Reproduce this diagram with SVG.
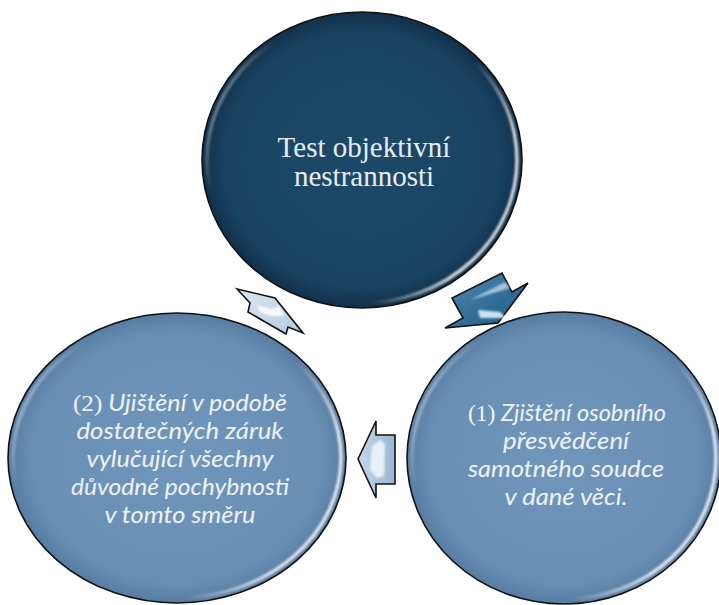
<svg xmlns="http://www.w3.org/2000/svg" width="719" height="605" viewBox="0 0 719 605">
<defs>
<style>
.rim{fill:none;stroke-width:3.5;filter:url(#soft)}
.edge{stroke:#111;stroke-width:1.6}
.ttop{font-family:"Liberation Serif","Times New Roman",serif;font-size:29px;fill:#e6edf3;text-anchor:middle}
.tside{font-family:Lato,"Open Sans",sans-serif;font-style:italic;font-size:24px;fill:#eef3f8;text-anchor:middle}
.num{font-family:"Liberation Serif","Times New Roman",serif;font-style:normal}
.arr{stroke:#111;stroke-width:1.6;stroke-linejoin:miter}
</style>
<filter id="soft" x="-10%" y="-10%" width="120%" height="120%"><feGaussianBlur stdDeviation="1.3"/></filter>
<filter id="soft2" x="-20%" y="-20%" width="140%" height="140%"><feGaussianBlur stdDeviation="1.2"/></filter>
<radialGradient id="gTop" cx="50%" cy="50%" r="50%">
<stop offset="0" stop-color="#1d4a6a"/><stop offset="0.86" stop-color="#1a4363"/><stop offset="1" stop-color="#10304a"/>
</radialGradient>
<radialGradient id="gSide" cx="50%" cy="50%" r="50%">
<stop offset="0" stop-color="#7096bc"/><stop offset="0.86" stop-color="#6a8fb5"/><stop offset="1" stop-color="#577ca2"/>
</radialGradient>
<linearGradient id="gRim" x1="0" y1="0" x2="1" y2="0.4">
<stop offset="0" stop-color="#fff" stop-opacity="0.95"/><stop offset="0.22" stop-color="#fff" stop-opacity="0"/>
<stop offset="0.8" stop-color="#fff" stop-opacity="0"/><stop offset="1" stop-color="#fff" stop-opacity="0.8"/>
</linearGradient>
<linearGradient id="gArrDark" x1="0" y1="0" x2="1" y2="1">
<stop offset="0" stop-color="#4d8bb6"/><stop offset="1" stop-color="#1d5680"/>
</linearGradient>
<linearGradient id="gArrMid" x1="0" y1="0" x2="1" y2="0">
<stop offset="0" stop-color="#c4d6e7"/><stop offset="1" stop-color="#98b7d3"/>
</linearGradient>
<linearGradient id="gArrLight" x1="0" y1="0" x2="1" y2="1">
<stop offset="0" stop-color="#dbe6f0"/><stop offset="1" stop-color="#b4cadf"/>
</linearGradient>
</defs>
<rect width="719" height="605" fill="#fff"/>

<g id="connectors">
<g id="arrow-top-to-1">
<polygon class="arr" fill="url(#gArrDark)" points="445,328 498,323 528,283 512,292 502,273 452,298 463,318"/>
<polygon points="478,310 500,312 506,318 480,318" fill="#dff0fb" opacity="0.9" filter="url(#soft2)"/>
<polygon points="470,300 505,282 510,288" fill="#cfe6f6" opacity="0.7" filter="url(#soft2)"/>
</g>
<g id="arrow-1-to-2">
<polygon class="arr" fill="url(#gArrMid)" points="358,459 376,421 376,435 395,435 395,484 376,484 376,498"/>
<polygon points="372,446 380,440 385,444 384,476 377,478 370,470" fill="#f4f9fd" opacity="0.85" filter="url(#soft2)"/>
</g>
<g id="arrow-2-to-top">
<polygon class="arr" fill="url(#gArrLight)" points="237,289 275,298 303,333 288,327 286,334 248,312 250,303"/>
<polygon points="257,305 272,309 279,306 285,316 270,316 260,312" fill="#ffffff" opacity="0.85" filter="url(#soft2)"/>
</g>
</g>

<g id="node-top">
<ellipse class="edge" cx="362" cy="160" rx="160" ry="148" fill="url(#gTop)"/>
<ellipse class="rim" cx="362" cy="160" rx="155" ry="143" stroke="url(#gRim)"/>
<text class="ttop" x="364" y="157">Test objektivní</text>
<text class="ttop" x="364" y="186">nestrannosti</text>
</g>

<g id="node-2">
<ellipse class="edge" cx="177" cy="458" rx="169" ry="145" fill="url(#gSide)"/>
<ellipse class="rim" cx="177" cy="458" rx="164" ry="140" stroke="url(#gRim)"/>
<text class="tside" x="180" y="411" textLength="214" lengthAdjust="spacingAndGlyphs"><tspan class="num">(2)</tspan> Ujištění v podobě</text>
<text class="tside" x="180" y="439" textLength="207" lengthAdjust="spacingAndGlyphs">dostatečných záruk</text>
<text class="tside" x="180" y="467" textLength="187" lengthAdjust="spacingAndGlyphs">vylučující všechny</text>
<text class="tside" x="180" y="495" textLength="218" lengthAdjust="spacingAndGlyphs">důvodné pochybnosti</text>
<text class="tside" x="180" y="523" textLength="151" lengthAdjust="spacingAndGlyphs">v tomto směru</text>
</g>

<g id="node-1">
<ellipse class="edge" cx="564" cy="458" rx="157" ry="146" fill="url(#gSide)"/>
<ellipse class="rim" cx="564" cy="458" rx="152" ry="141" stroke="url(#gRim)"/>
<text class="tside" x="567" y="421" textLength="198" lengthAdjust="spacingAndGlyphs"><tspan class="num">(1)</tspan> Zjištění osobního</text>
<text class="tside" x="566" y="449" textLength="126" lengthAdjust="spacingAndGlyphs">přesvědčení</text>
<text class="tside" x="566" y="477" textLength="196" lengthAdjust="spacingAndGlyphs">samotného soudce</text>
<text class="tside" x="566" y="505" textLength="123" lengthAdjust="spacingAndGlyphs">v dané věci.</text>
</g>
</svg>
